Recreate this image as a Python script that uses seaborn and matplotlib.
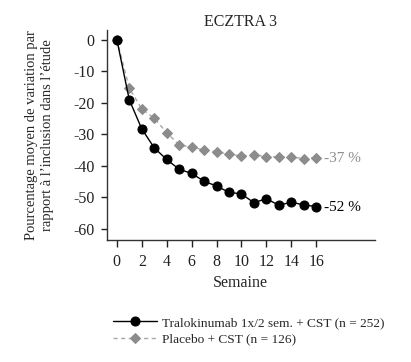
import numpy as np
import pandas as pd
import matplotlib
matplotlib.use("Agg")
import matplotlib.pyplot as plt
import seaborn as sns

weeks = list(range(17))
tralo = [0, -19.1, -28.3, -34.3, -38.0, -41.1, -42.4, -44.9, -46.4, -48.4, -48.9,
         -51.7, -50.4, -52.5, -51.5, -52.4, -52.9]
placebo = [0, -15.4, -22.0, -24.9, -29.5, -33.4, -34.1, -35.0, -35.5, -36.4, -36.9,
           -36.5, -37.1, -37.2, -37.2, -37.7, -37.4]
lab_tralo = "Tralokinumab 1x/2 sem. + CST (n = 252)"
lab_placebo = "Placebo + CST (n = 126)"

sns.set_style("ticks")
plt.rcParams['font.family'] = ['Liberation Serif', 'DejaVu Serif']
plt.rcParams['axes.unicode_minus'] = False

fig = plt.figure(figsize=(4.11, 3.62), dpi=100)
ax = fig.add_axes([0.260, 0.337, 0.652, 0.580])

df_p = pd.DataFrame({"Semaine": weeks, "val": placebo})
df_t = pd.DataFrame({"Semaine": weeks, "val": tralo})

sns.lineplot(data=df_p, x="Semaine", y="val", ax=ax, color="#a8a8a8", linestyle=(0, (3, 2.5)),
             linewidth=1.0, marker="D", markersize=5.5, markerfacecolor="#8c8c8c",
             markeredgecolor="#8c8c8c", label=lab_placebo)
sns.lineplot(data=df_t, x="Semaine", y="val", ax=ax, color="black", linewidth=1.0,
             marker="o", markersize=6.5, markerfacecolor="black", markeredgecolor="black",
             label=lab_tralo)

ax.text(16.6, placebo[-1] - 0.3, "-37 %", color="#8c8c8c", fontsize=11, va="center", ha="left")
ax.text(16.6, tralo[-1] - 0.3, "-52 %", color="black", fontsize=11, va="center", ha="left")

ax.set_xlim(-0.8, 20.7)
ax.set_ylim(-63.5, 3)
ax.set_xticks(range(0, 17, 2))
ax.set_yticks(range(0, -61, -10))
ax.tick_params(labelsize=11.5, length=4, width=1, colors="#222222", pad=5)
ax.tick_params(axis="x", length=5, pad=5)
for s in ["left", "bottom"]:
    ax.spines[s].set_linewidth(1.0)
    ax.spines[s].set_color("#333333")
sns.despine(ax=ax)

ax.set_title("ECZTRA 3", fontsize=11.5, pad=2)
ax.set_xlabel("Semaine", fontsize=11.5, labelpad=4)
ax.set_ylabel("Pourcentage moyen de variation par\nrapport à l’inclusion dans l’étude",
              fontsize=10.5, labelpad=14, linespacing=1.25)

h, l = ax.get_legend_handles_labels()
ax.get_legend().remove()
fig.legend(h[::-1], l[::-1], loc="upper left", bbox_to_anchor=(0.275, 0.125), frameon=False,
           fontsize=9.6, handlelength=3.3, handletextpad=0.35, labelspacing=0.3,
           borderaxespad=0, borderpad=0)

fig.savefig("out.png", dpi=100)
